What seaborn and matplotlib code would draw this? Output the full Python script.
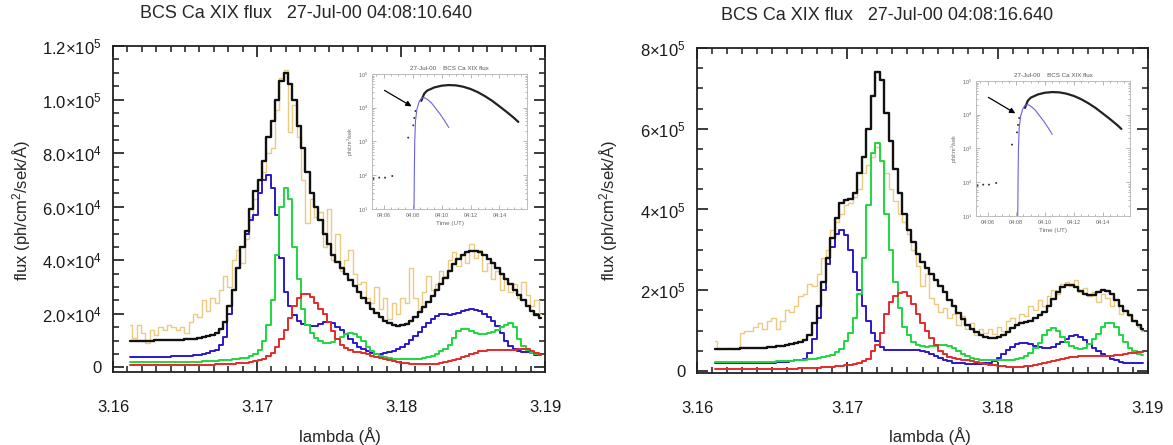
import numpy as np
import matplotlib
matplotlib.use("Agg")
import matplotlib.pyplot as plt
from matplotlib.ticker import MultipleLocator, NullFormatter
import seaborn as sns
import pandas as pd

sns.set_style("ticks")
plt.rcParams['font.family'] = ['Liberation Sans', 'DejaVu Sans']
plt.rcParams['mathtext.fontset'] = 'custom'
plt.rcParams['mathtext.rm'] = 'Liberation Sans'
plt.rcParams['mathtext.default'] = 'regular'
# IDL-like frame: inward ticks on all four sides
plt.rcParams.update({
    'xtick.direction': 'in', 'ytick.direction': 'in',
    'xtick.top': True, 'ytick.right': True,
    'xtick.bottom': True, 'ytick.left': True,
    'xtick.major.size': 8, 'ytick.major.size': 8,
    'xtick.minor.size': 4.5, 'ytick.minor.size': 4.5,
    'xtick.major.width': 1.2, 'ytick.major.width': 1.2,
    'xtick.minor.width': 1.1, 'ytick.minor.width': 1.1,
    'xtick.minor.visible': True, 'ytick.minor.visible': True,
    'xtick.color': '#1a1a1a', 'ytick.color': '#1a1a1a',
    'xtick.labelsize': 12, 'ytick.labelsize': 12,
    'xtick.major.pad': 20, 'ytick.major.pad': 8,
    'axes.linewidth': 1.3, 'axes.edgecolor': '#222222',
})

# wavelength bins (Angstrom)
lam_start, lam_step, nbin = 3.1612, 0.0003, 96
lam = np.round(lam_start + lam_step * np.arange(nbin), 4)

# ---- left spectrum, 04:08:10.640 (units of 1e3) ----
obs_L = [16, 11, 16, 13, 9, 14, 12, 15, 14, 16, 15, 14, 15, 13, 17, 20, 19, 25, 21, 26,
         24, 29, 34, 30, 40, 44, 39, 48, 56, 63, 70, 73, 80, 82, 96, 108, 111, 88, 98, 86,
         70, 54, 63, 56, 58, 45, 59, 40, 50, 36, 40, 44, 35, 31, 32, 26, 24, 30, 22, 26,
         18, 24, 20, 26, 24, 37, 26, 22, 28, 34, 29, 31, 36, 34, 40, 43, 38, 42, 39, 46,
         41, 44, 36, 39, 33, 36, 29, 33, 28, 31, 26, 32, 27, 23, 25, 20]
fit_L = [10.0, 10.0, 10.0, 10.0, 10.0, 10.0, 10.1, 10.1, 10.2, 10.2, 10.3, 10.3, 10.4, 10.5, 10.6, 10.8, 11.0, 11.3, 11.7, 12.2,
         13.0, 14.5, 17, 23, 29, 37, 45, 51, 59, 66, 70, 77, 86, 92, 100, 107, 110, 106, 100, 90,
         82, 73, 65, 60, 55, 50, 46, 42, 39.5, 37, 35, 32.5, 30.5, 28, 26, 24, 22, 20.5, 19, 17.5,
         16.5, 16, 15.5, 15.8, 16.4, 17.5, 19, 20.6, 22.5, 24.5, 26.5, 29, 31, 33.5, 36, 38.5, 40.5, 42, 43, 43.5,
         43.5, 43, 42, 40.5, 39, 37, 35, 33, 31, 29, 27, 25, 23, 21, 19.5, 18.5]
blue_L = [3.8, 3.8, 3.8, 3.8, 3.8, 3.9, 3.9, 3.9, 4.0, 4.0, 4.1, 4.1, 4.2, 4.3, 4.4, 4.6, 4.8, 5.1, 5.5, 6.0,
          6.5, 8.5, 11.5, 20, 29, 37, 45, 50, 55, 57, 65, 70, 72, 67, 57, 41, 28, 23, 19.5, 17.5,
          16.4, 15.8, 15.3, 15.5, 16.2, 16.8, 17, 16.5, 15.2, 13.8, 12.3, 10.8, 9.3, 7.8, 6.8, 6.0, 5.5, 5.2, 5.2, 5.4,
          5.7, 6.2, 6.9, 7.8, 8.9, 10.2, 11.7, 13.2, 15, 16.7, 18, 19.3, 20, 20, 19.6, 19.8, 20.4, 21, 21.6, 21.8,
          21.6, 21, 20, 18.7, 17.2, 15.4, 13, 10, 8, 6.8, 6.1, 5.8, 5.6, 5.3, 4.8, 4.5]
green_L = [2.0, 2.0, 2.0, 2.0, 2.0, 2.0, 2.0, 2.0, 2.0, 2.0, 2.0, 2.0, 2.1, 2.1, 2.1, 2.2, 2.2, 2.3, 2.3, 2.4,
           2.5, 2.6, 2.7, 2.8, 3.0, 3.2, 3.4, 3.7, 4.2, 5.0, 6.5, 10, 16, 25, 42, 60, 67, 63, 45, 33,
           22, 16, 13, 11, 9.8, 9.2, 9.0, 9.5, 10.5, 11.5, 12.3, 12.7, 12.5, 11.5, 9.8, 7.8, 6.2, 5.0, 4.3, 3.8,
           3.5, 3.3, 3.2, 3.1, 3.0, 3.1, 3.2, 3.3, 3.5, 3.8, 4.2, 5.0, 6.0, 7.0, 8.5, 11, 13.5, 14.5, 14.3, 13.5,
           12.8, 12.6, 12.5, 12.7, 13.2, 14, 15, 16, 16.5, 15, 10.5, 8, 6.5, 5.5, 4.9, 4.5]
red_L = [0.8, 0.8, 0.8, 0.8, 0.8, 0.8, 0.8, 0.8, 0.8, 0.8, 0.8, 0.8, 0.85, 0.85, 0.9, 0.9, 0.95, 1.0, 1.0, 1.05,
         1.1, 1.15, 1.2, 1.3, 1.4, 1.5, 1.6, 1.8, 2.0, 2.3, 2.7, 3.3, 4.2, 5.5, 7.5, 10.5, 14, 18.5, 23, 26,
         27.5, 27.5, 26.3, 24, 22, 20, 17, 13.5, 10.5, 8.5, 7.2, 6.4, 5.9, 5.6, 5.3, 4.9, 4.4, 4.0, 3.5, 3.0,
         2.6, 2.3, 2.0, 1.7, 1.5, 1.3, 1.2, 1.1, 1.1, 1.2, 1.3, 1.4, 1.6, 1.9, 2.3, 2.8, 3.3, 3.8, 4.4, 5.0,
         5.5, 6.0, 6.3, 6.5, 6.6, 6.6, 6.5, 6.4, 6.4, 6.5, 6.8, 7.0, 6.8, 6.2, 5.3, 4.5]

# ---- right spectrum, 04:08:16.640 (units of 1e4) ----
obs_R = [7.5, 5.5, 5.5, 5.6, 5.4, 5.7, 9.5, 9.8, 10, 11, 12, 10.5, 12.5, 13, 10.5, 12.5, 15, 14.5, 16, 18.5,
         19, 21.5, 21, 24, 28, 30, 35, 37, 39, 41, 41.5, 43, 45, 49, 51, 53, 55.5, 52, 49, 45,
         42, 39, 37, 34, 30, 26, 21, 24, 18, 16.5, 14.5, 15.5, 13, 14, 11.5, 13.5, 10.5, 12, 9, 10.5,
         9.5, 10.5, 9.2, 11, 10, 12.5, 13, 11.5, 14, 13.5, 16, 15, 17.5, 16, 18.5, 20, 19, 21.5, 22, 21,
         22.5, 19.5, 20.5, 18.5, 19.5, 17, 19, 18, 16, 17.5, 14, 15, 13.5, 12.5, 11, 10]
fit_R = [5.5, 5.5, 5.5, 5.5, 5.5, 5.5, 5.6, 5.6, 5.6, 5.7, 5.7, 5.8, 5.9, 6.0, 6.1, 6.2, 6.4, 6.6, 6.9, 7.2,
         7.6, 9, 12, 16, 22, 28, 33, 38, 41.5, 42.3, 42.5, 44, 49, 53, 60, 68, 74, 72, 64, 57,
         50, 44, 39, 35, 32, 29, 27, 25.5, 24, 22.5, 21, 19.5, 17.6, 16, 14.3, 12.9, 11.5, 10.5, 9.7, 9.0,
         8.5, 8.2, 8.1, 8.3, 8.9, 9.6, 10.6, 11.5, 12, 12.2, 12.5, 13, 13.8, 14.7, 16, 17.8, 19.5, 20.8, 21.3, 21.4,
         20.8, 19.8, 19, 18.7, 18.9, 19.5, 20, 19.8, 19, 17.6, 16.2, 14.9, 13.8, 12.5, 11.3, 10.5]
blue_R = [1.9, 1.9, 1.9, 1.9, 1.9, 1.9, 1.9, 1.9, 1.9, 2.0, 2.0, 2.0, 2.1, 2.1, 2.2, 2.2, 2.3, 2.4, 2.6, 2.8,
          3.0, 4.5, 8, 13, 20, 26.5, 30.8, 34, 35, 33.8, 30, 24.5, 20, 16, 12.5, 9.5, 7.5, 6, 5.3, 5.1,
          5.1, 5.1, 5.2, 5.2, 5.2, 5.1, 5.0, 4.7, 4.3, 3.8, 3.3, 2.8, 2.4, 2.1, 2.0, 1.9, 1.8, 1.8, 1.8, 1.8,
          1.9, 2.1, 2.5, 3.2, 4.2, 5.2, 6.0, 6.6, 6.9, 6.9, 6.7, 6.3, 5.9, 5.6, 5.6, 6, 6.6, 7.3, 8, 8.7,
          8.8, 8.4, 7.6, 6.6, 5.7, 4.9, 4.3, 3.6, 3.0, 2.6, 2.3, 2.1, 2.0, 2.0, 2.0, 2.0]
green_R = [2.2, 2.2, 2.2, 2.2, 2.2, 2.2, 2.2, 2.2, 2.2, 2.2, 2.2, 2.3, 2.3, 2.3, 2.4, 2.4, 2.5, 2.5, 2.6, 2.7,
           2.8, 2.9, 3.0, 3.2, 3.4, 3.6, 4.0, 4.6, 5.5, 7.5, 9.5, 13, 19, 28, 41, 54, 56.5, 52, 39, 30,
           22, 15.5, 11, 8.8, 7.2, 6.5, 6.2, 6.0, 6.1, 6.3, 6.4, 6.4, 6.2, 5.7, 5.0, 4.3, 3.7, 3.2, 2.9, 2.7,
           2.6, 2.6, 2.6, 2.6, 2.6, 2.7, 2.8, 3.0, 3.2, 3.7, 4.5, 5.6, 6.9, 8.8, 10.2, 10.6, 10, 8.5, 7.2, 6.2,
           5.6, 5.5, 5.8, 6.6, 7.8, 9.2, 10.8, 11.8, 12, 11, 9, 7.2, 5.8, 4.9, 4.3, 4.0]
red_R = [0.4, 0.4, 0.4, 0.4, 0.4, 0.4, 0.4, 0.4, 0.4, 0.4, 0.4, 0.4, 0.45, 0.45, 0.5, 0.5, 0.55, 0.6, 0.6, 0.65,
         0.7, 0.75, 0.8, 0.85, 0.9, 1.0, 1.1, 1.2, 1.3, 1.45, 1.6, 1.8, 2.0, 2.4, 3.0, 5.0, 6.5, 9.5, 14, 17,
         18.5, 19.4, 19.6, 18.6, 16.5, 14, 12, 10, 8.2, 6.4, 5, 4.1, 3.5, 3.2, 3.0, 2.8, 2.6, 2.4, 2.2, 2.0,
         1.8, 1.6, 1.4, 1.3, 1.2, 1.1, 1.1, 1.1, 1.1, 1.2, 1.3, 1.5, 1.7, 1.9, 2.2, 2.5, 2.8, 3.0, 3.2, 3.4,
         3.5, 3.6, 3.7, 3.7, 3.7, 3.7, 3.7, 3.7, 3.8, 3.9, 4.0, 4.2, 4.4, 4.5, 4.6, 4.7]

# ---- inset light curve (minutes after 04:00, ph/cm2/sek) ----
lc_t = [8.6, 8.8, 9.0, 9.5, 10.0, 10.5, 11.0, 11.5, 12.0, 12.5, 13.0, 13.5, 14.0, 14.5, 15.0, 15.3]
lc_f = [1.6e4, 2.6e4, 3.2e4, 4.0e4, 4.5e4, 4.7e4, 4.6e4, 4.2e4, 3.6e4, 2.9e4, 2.2e4, 1.6e4, 1.1e4, 7.5e3, 5.0e3, 3.8e3]
rise_t = [8.10, 8.12, 8.15, 8.2, 8.3, 8.45, 8.6, 8.8, 9.0, 9.3, 9.6, 9.9, 10.2, 10.5]
rise_f = [10, 100, 1000, 4000, 9000, 1.5e4, 1.9e4, 2.0e4, 1.8e4, 1.4e4, 9.5e3, 6.5e3, 4.2e3, 2.6e3]
pts_t = [5.3, 5.7, 6.1, 6.6, 7.7, 8.05, 8.12, 8.2]
pts_f = [80, 85, 85, 95, 1300, 3000, 5000, 8000]

series = [("obs", "#ebcb82", 1.0), ("blue", "#2b18c9", 1.4), ("green", "#1fd63f", 1.4),
          ("red", "#e42a2a", 1.4), ("fit", "#111111", 1.7)]

fig = plt.figure(figsize=(11.73, 4.45), dpi=100)
W, H = 1173, 445


def px_axes(x0, y0, x1, y1):
    return fig.add_axes([x0 / W, 1 - y1 / H, (x1 - x0) / W, (y1 - y0) / H])


def spectrum(ax, data, scale):
    for name, col, lw in series:
        df = pd.DataFrame({"lambda": lam, "flux": np.array(data[name]) * scale})
        sns.lineplot(data=df, x="lambda", y="flux", ax=ax, color=col, lw=lw,
                     drawstyle="steps-mid", legend=False)
    ax.set_xlim(3.16, 3.19)
    ax.set_xticks([3.16, 3.17, 3.18, 3.19])
    ax.xaxis.set_minor_locator(MultipleLocator(0.001))
    ax.set_xlabel("")
    ax.set_ylabel("")
    ax.tick_params(which="both", direction="in", top=True, right=True)


def inset(ax):
    sns.lineplot(x=lc_t, y=lc_f, ax=ax, color="#222222", lw=1.6)
    sns.lineplot(x=rise_t, y=rise_f, ax=ax, color="#6a62e0", lw=0.8)
    sns.scatterplot(x=pts_t, y=pts_f, ax=ax, color="#333333", s=2, marker="o", edgecolor="none")
    ax.set_yscale("log")
    ax.set_xlim(5.2, 15.9)
    ax.set_ylim(10, 1e5)
    ax.set_xticks([6, 8, 10, 12, 14])
    ax.set_xticklabels(["04:06", "04:08", "04:10", "04:12", "04:14"])
    ax.xaxis.set_minor_locator(MultipleLocator(0.5))
    ax.set_yticks([1e1, 1e2, 1e3, 1e4, 1e5])
    ax.set_yticklabels(["10$^1$", "10$^2$", "10$^3$", "10$^4$", "10$^5$"])
    ax.yaxis.set_minor_formatter(NullFormatter())
    ax.tick_params(which="both", direction="in", top=True, right=True, colors="#aaaaaa",
                   labelcolor="#666666", labelsize=4, width=0.6, pad=3)
    ax.tick_params(which="major", length=3)
    ax.tick_params(which="minor", length=1.5)
    for s in ax.spines.values():
        s.set_linewidth(0.7)
        s.set_color("#bbbbbb")
    ax.set_title("27-Jul-00    BCS Ca XIX flux", fontsize=4.5, color="#555555", pad=3)
    ax.set_xlabel("Time (UT)", fontsize=4.5, color="#666666", labelpad=2)
    ax.set_ylabel("ph/cm$^2$/sek", fontsize=4, color="#666666", labelpad=1)
    ax.annotate("", xy=(8.1, 1.0e4), xytext=(5.9, 3.6e4),
                arrowprops=dict(arrowstyle="-|>", color="black", lw=0.9, mutation_scale=8))


# left panel
axL = px_axes(113, 46, 545, 372)
spectrum(axL, {"obs": obs_L, "fit": fit_L, "blue": blue_L, "green": green_L, "red": red_L}, 1e3)
axL.set_ylim(-1700, 1.2e5)
axL.set_yticks([0, 2e4, 4e4, 6e4, 8e4, 1e5, 1.2e5])
axL.set_yticklabels(["0", "2.0×10$^4$", "4.0×10$^4$", "6.0×10$^4$", "8.0×10$^4$",
                     "1.0×10$^5$", "1.2×10$^5$"])
axL.yaxis.set_minor_locator(MultipleLocator(5e3))

# right panel
axR = px_axes(697, 48, 1148, 373)
spectrum(axR, {"obs": obs_R, "fit": fit_R, "blue": blue_R, "green": green_R, "red": red_R}, 1e4)
axR.set_ylim(-5000, 8e5)
axR.set_yticks([0, 2e5, 4e5, 6e5, 8e5])
axR.set_yticklabels(["0", "2×10$^5$", "4×10$^5$", "6×10$^5$", "8×10$^5$"])
axR.yaxis.set_minor_locator(MultipleLocator(5e4))

inset(px_axes(372, 74, 527, 209))
inset(px_axes(976, 81, 1130, 216))

# titles and axis labels
fig.text(306 / W, 1 - 14 / H, "BCS Ca XIX flux   27-Jul-00 04:08:10.640", ha="center", va="center", fontsize=13)
fig.text(887 / W, 1 - 15 / H, "BCS Ca XIX flux   27-Jul-00 04:08:16.640", ha="center", va="center", fontsize=13)
for xc in (340, 930):
    fig.text(xc / W, 1 - 436 / H, "lambda (Å)", ha="center", va="center", fontsize=12)
for xc in (22, 609):
    fig.text(xc / W, 1 - 210 / H, "flux (ph/cm$^2$/sek/Å)", ha="center", va="center",
             fontsize=12, rotation=90)

fig.savefig("out.png", dpi=100)
